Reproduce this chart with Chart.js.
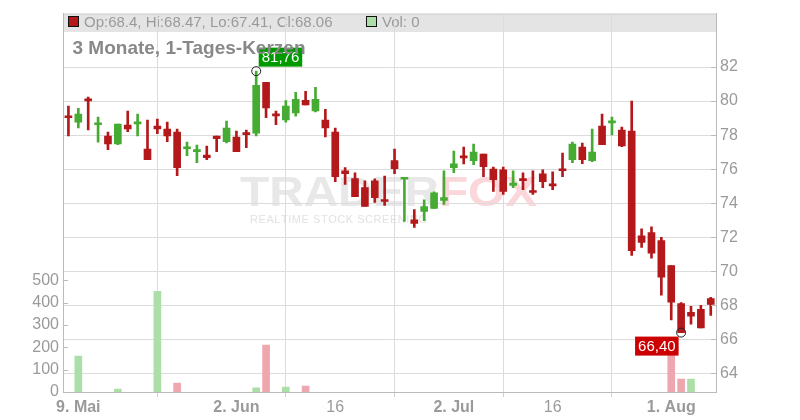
<!DOCTYPE html>
<html><head><meta charset="utf-8">
<script src="https://cdn.jsdelivr.net/npm/chart.js@4/dist/chart.umd.min.js"></script>
<style>html,body{margin:0;padding:0;background:#fff}#wrap{width:800px;height:420px;position:relative}</style>
</head><body><div id="wrap"><canvas id="c" width="800" height="420"></canvas></div>
<script>
// ---- data ----
const dates = ['2025-05-08','2025-05-09','2025-05-12','2025-05-13','2025-05-14','2025-05-15','2025-05-16',
'2025-05-19','2025-05-20','2025-05-21','2025-05-22','2025-05-23','2025-05-26','2025-05-27','2025-05-28','2025-05-29','2025-05-30',
'2025-06-02','2025-06-03','2025-06-04','2025-06-05','2025-06-06','2025-06-09','2025-06-10','2025-06-11','2025-06-12','2025-06-13',
'2025-06-16','2025-06-17','2025-06-18','2025-06-19','2025-06-20','2025-06-23','2025-06-24','2025-06-25','2025-06-26','2025-06-27',
'2025-06-30','2025-07-01','2025-07-02','2025-07-03','2025-07-04','2025-07-07','2025-07-08','2025-07-09','2025-07-10','2025-07-11',
'2025-07-14','2025-07-15','2025-07-16','2025-07-17','2025-07-18','2025-07-21','2025-07-22','2025-07-23','2025-07-24','2025-07-25',
'2025-07-28','2025-07-29','2025-07-30','2025-07-31','2025-08-01','2025-08-04','2025-08-05','2025-08-06','2025-08-07'];
const open = [79.12,78.76,80.11,78.61,77.95,77.49,78.59,78.66,77.18,78.53,78.35,78.18,77.20,77.03,76.83,77.95,77.61,
77.89,78.14,78.12,81.10,79.25,78.90,79.31,80.05,79.43,78.88,78.18,75.90,75.45,74.92,75.31,74.22,76.50,75.41,73.03,
73.52,73.69,74.16,76.09,76.72,76.50,76.89,76.01,75.96,75.04,75.43,74.73,75.72,75.14,76.01,76.56,77.30,76.50,78.53,
78.72,78.30,78.24,72.09,72.27,71.80,70.34,68.11,67.59,67.76,68.40];
const high = [79.70,79.58,80.23,79.06,78.18,78.65,79.41,79.23,78.88,78.94,78.76,78.35,77.59,77.42,77.36,77.95,78.82,
78.24,78.30,81.76,81.10,79.41,80.03,80.52,80.58,80.81,79.52,78.41,76.09,75.78,75.31,75.43,75.60,77.18,75.51,73.62,
74.20,74.67,75.90,77.07,77.30,77.48,76.89,76.13,76.13,75.90,75.78,75.90,75.96,75.84,76.95,77.59,77.54,78.35,79.23,
79.06,78.47,80.00,72.50,72.62,72.00,70.34,68.17,67.94,68.00,68.47];
const low = [77.95,78.43,78.30,77.59,77.14,77.44,78.20,77.96,76.56,78.08,77.61,75.62,76.79,76.38,76.56,77.03,77.55,
77.03,77.26,77.96,79.02,78.61,78.76,79.12,79.78,79.37,77.90,75.27,75.10,74.39,73.81,74.04,73.87,75.74,72.93,72.58,
72.97,73.69,73.93,75.80,76.31,76.27,75.56,74.69,74.51,74.92,74.80,74.51,74.92,74.80,75.56,76.38,76.32,76.44,77.44,
78.02,77.32,70.94,71.41,70.77,68.60,67.14,66.40,66.90,66.67,67.41];
const close = [79.02,79.23,80.01,78.66,77.49,78.65,78.37,78.76,76.56,78.37,77.96,76.09,77.30,77.08,76.68,77.79,78.41,
77.03,78.03,80.93,79.60,79.13,79.70,80.11,79.78,80.11,78.43,75.56,75.74,74.39,73.81,74.33,74.10,76.03,75.45,72.81,
73.81,74.61,74.33,76.31,76.66,77.01,76.15,75.39,74.69,75.19,75.33,74.63,75.27,75.02,75.91,77.48,76.56,77.01,77.44,
78.81,77.36,71.22,71.70,71.06,69.65,68.19,66.40,67.37,66.67,68.06];
const volume = [0,161,0,0,0,13,0,0,0,451,0,40,0,0,0,0,0,
0,0,19,210,0,22,0,27,0,0,0,0,0,0,0,0,0,0,0,
0,0,0,0,0,0,0,0,0,0,0,0,0,0,0,0,0,0,0,
0,0,0,0,0,0,230,58,58,0,0];
const tickDates = ['2025-05-09','2025-06-02','2025-06-16','2025-07-02','2025-07-16','2025-08-01'];
const tickLabels = ['9. Mai','2. Jun','16','2. Jul','16','1. Aug'];
const boldLabels = ['9. Mai','2. Jun','2. Jul','1. Aug'];
const priceTicks = [64,66,68,70,72,74,76,78,80,82];
const volumeTicks = [0,100,200,300,400,500];
const chartTitle = '3 Monate, 1-Tages-Kerzen';

// ---- derived ----
const FONT = '"Liberation Sans", Arial, sans-serif';
const UP = '#46ab32', DOWN = '#b3191b';
const idx = dates.map((d, i) => i);
const tickIdx = tickDates.map(d => dates.indexOf(d));
const candleColor = idx.map(i => close[i] >= open[i] ? UP : DOWN);
const volColor = idx.map(i => (i > 0 && close[i] < close[i - 1]) ? '#eea7ae' : '#acdea7');
const last = dates.length - 1;
const hiIdx = high.indexOf(Math.max(...high));
const loIdx = low.indexOf(Math.min(...low));
const fmt = v => v.toFixed(2).replace('.', ',');

Chart.defaults.font.family = FONT;

const deco = {
  id: 'deco',
  beforeDraw(chart) {
    const { ctx, chartArea: a } = chart;
    ctx.save();
    ctx.fillStyle = '#e4e4e4';
    ctx.fillRect(a.left, a.top, a.right - a.left, 18.5);
    ctx.fillStyle = '#d0d0d0';
    ctx.fillRect(a.left, a.top, a.right - a.left, 1);
    ctx.fillStyle = DOWN; ctx.strokeStyle = '#111'; ctx.lineWidth = 1;
    ctx.fillRect(68.5, 16.5, 10, 10); ctx.strokeRect(68.5, 16.5, 10, 10);
    ctx.fillStyle = '#acdea7';
    ctx.fillRect(366.5, 16.5, 10, 10); ctx.strokeRect(366.5, 16.5, 10, 10);
    ctx.font = '15px ' + FONT; ctx.fillStyle = '#9a9a9a'; ctx.textBaseline = 'alphabetic';
    ctx.fillText('Op:' + open[last] + ', Hi:' + high[last] + ', Lo:' + low[last] + ', Cl:' + close[last], 84, 26.5);
    ctx.fillText('Vol: ' + volume[last], 382, 26.5);
    ctx.font = 'bold 43px ' + FONT;
    const w1 = ctx.measureText('TRADER').width, w2 = ctx.measureText('FOX').width;
    const sx = 297 / (w1 + w2);
    ctx.save();
    ctx.translate(240, 206); ctx.scale(sx, 1);
    ctx.fillStyle = '#e8e8e8'; ctx.fillText('TRADER', 0, 0);
    ctx.fillStyle = '#fbd6da'; ctx.fillText('FOX', w1, 0);
    ctx.restore();
    ctx.font = '11px ' + FONT; ctx.fillStyle = '#e2e2e2';
    const sub = 'REALTIME STOCK SCREENING';
    const cw = [...sub].map(ch => ctx.measureText(ch).width);
    const tot = cw.reduce((s, v) => s + v, 0);
    const sp = (177 - tot) / (sub.length - 1);
    let x = 250;
    [...sub].forEach((ch, k) => { ctx.fillText(ch, x, 223); x += cw[k] + sp; });
    ctx.restore();
  },
  afterDatasetsDraw(chart) {
    const { ctx, scales } = chart;
    const xs = scales.x, yp = scales.yp;
    ctx.save();
    let cx = xs.getPixelForValue(hiIdx), cy = yp.getPixelForValue(high[hiIdx]);
    ctx.strokeStyle = '#222'; ctx.lineWidth = 1;
    ctx.beginPath(); ctx.arc(cx, cy, 4.5, 0, Math.PI * 2); ctx.stroke();
    ctx.font = '15px ' + FONT;
    let t = fmt(high[hiIdx]); let tw = ctx.measureText(t).width;
    ctx.fillStyle = '#009900';
    ctx.fillRect(cx + 2.5, cy - 23.5, tw + 6, 19);
    ctx.fillStyle = '#fff'; ctx.textBaseline = 'alphabetic';
    ctx.fillText(t, cx + 5.5, cy - 9);
    cx = xs.getPixelForValue(loIdx); cy = yp.getPixelForValue(low[loIdx]);
    ctx.beginPath(); ctx.arc(cx, cy, 4.5, 0, Math.PI * 2); ctx.stroke();
    t = fmt(low[loIdx]); tw = ctx.measureText(t).width;
    ctx.fillStyle = '#cc0000';
    ctx.fillRect(cx - 2.5 - tw - 6, cy + 4, tw + 6, 19);
    ctx.fillStyle = '#fff';
    ctx.fillText(t, cx - 2.5 - tw - 3, cy + 18.5);
    ctx.restore();
  },
  afterDraw(chart) {
    const { ctx, chartArea: a, scales } = chart;
    ctx.save();
    ctx.strokeStyle = '#bbb'; ctx.lineWidth = 1;
    priceTicks.forEach(v => { const y = Math.round(scales.yp.getPixelForValue(v)) + 0.5; ctx.beginPath(); ctx.moveTo(a.right - 5, y); ctx.lineTo(a.right, y); ctx.stroke(); });
    volumeTicks.forEach(v => { const y = Math.round(scales.yv.getPixelForValue(v)) + 0.5; ctx.beginPath(); ctx.moveTo(a.left, y); ctx.lineTo(a.left + 5, y); ctx.stroke(); });
    ctx.font = 'bold 19px ' + FONT; ctx.fillStyle = '#888'; ctx.textBaseline = 'alphabetic';
    ctx.fillText(chartTitle, 72.5, 53.5);
    ctx.restore();
  }
};

const isBold = v => boldLabels.includes(tickLabels[tickIdx.indexOf(v)]);

new Chart(document.getElementById('c'), {
  type: 'bar',
  data: {
    datasets: [
      { label: 'Vol', yAxisID: 'yv', data: idx.map(i => ({ x: i, y: volume[i] > 0 ? volume[i] : null })), backgroundColor: volColor,
        barThickness: 7, grouped: false, order: 3 },
      { label: 'wick', yAxisID: 'yp', data: idx.map(i => ({ x: i, y: [low[i], high[i]] })), backgroundColor: candleColor,
        barThickness: 2, grouped: false, order: 2 },
      { label: 'body', yAxisID: 'yp', data: idx.map(i => ({ x: i, y: [open[i], close[i]] })), backgroundColor: candleColor,
        barThickness: 7, minBarLength: 2, grouped: false, order: 1 }
    ]
  },
  options: {
    responsive: false, animation: false,
    layout: { padding: { top: 12, left: 0, right: 0, bottom: 0 } },
    plugins: { legend: { display: false }, tooltip: { enabled: false } },
    scales: {
      x: {
        type: 'linear', min: -0.55, max: 65.53, offset: false,
        afterBuildTicks: s => { s.ticks = tickIdx.map(v => ({ value: v })); },
        afterFit: s => { s.height = 28; },
        grid: { color: '#dcdcdc', lineWidth: 1, drawTicks: true, tickLength: 5, tickColor: '#d0d0d0' },
        border: { color: '#bbb', width: 1 },
        ticks: {
          autoSkip: false, maxRotation: 0, padding: 1, color: '#9a9a9a',
          font: c => ({ family: FONT, size: 16, weight: (c && c.tick && isBold(c.tick.value)) ? 'bold' : 'normal' }),
          callback: v => tickLabels[tickIdx.indexOf(v)]
        }
      },
      yp: {
        type: 'linear', position: 'right', min: 62.91, max: 85.14,
        afterBuildTicks: s => { s.ticks = priceTicks.map(v => ({ value: v })); },
        afterFit: s => { s.width = 84; },
        grid: { color: '#dcdcdc', lineWidth: 1, drawTicks: false },
        border: { color: '#bbb', width: 1 },
        ticks: { padding: 4, color: '#9a9a9a', font: { size: 16 }, autoSkip: false, callback: v => String(v) }
      },
      yv: {
        type: 'linear', position: 'left', min: 0, max: 1696,
        afterBuildTicks: s => { s.ticks = volumeTicks.map(v => ({ value: v })); },
        afterFit: s => { s.width = 63; },
        grid: { display: false, drawTicks: false },
        border: { display: true, color: '#bbb', width: 1 },
        ticks: { padding: 4, color: '#9a9a9a', font: { size: 16 }, autoSkip: false, callback: v => String(v) }
      }
    }
  },
  plugins: [deco]
});
</script>
</body></html>
